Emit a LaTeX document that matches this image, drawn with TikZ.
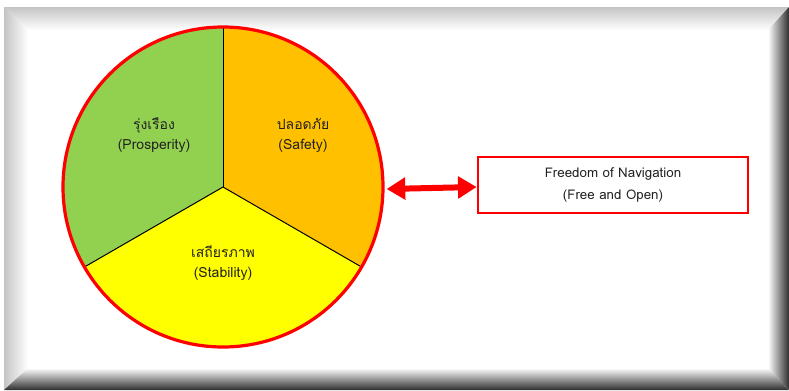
\documentclass[tikz,border=0pt]{standalone}
\usepackage{fontspec}
\newfontfamily\thaifont[Script=Thai]{Loma}
\setmainfont{Loma}
\usetikzlibrary{arrows.meta}
\definecolor{pgreen}{HTML}{92D050}
\definecolor{porange}{HTML}{FFC000}
\definecolor{pyellow}{HTML}{FFFF00}
\definecolor{pred}{HTML}{FF0000}
\definecolor{bevlight}{HTML}{C4C4C4}
\definecolor{bevdark}{HTML}{2E2E2E}
\definecolor{txt}{HTML}{222222}
\tikzset{
  lbl/.style={align=center, font=\thaifont\fontsize{10.5}{15}\selectfont, text=txt},
  divider/.style={black, line width=0.75pt},
  fonbox/.style={draw=pred, line width=2pt, fill=white, minimum width=202.5pt, minimum height=42pt, align=center, font=\fontsize{10}{17}\selectfont, text=txt},
  dblarrow/.style={pred, line width=4.5pt, {Triangle[width=16pt,length=14pt]}-{Triangle[width=16pt,length=14pt]}}
}
\begin{document}
\begin{tikzpicture}[x=0.75pt,y=-0.75pt]
\useasboundingbox (0,0) rectangle (789,390);
% frame bevels
\fill[white] (0,0) rectangle (789,390);
\shade[top color=bevlight, bottom color=white] (4,7) -- (789,7) -- (768,30) -- (28,30) -- cycle;
\shade[left color=bevlight, right color=white] (4,7) -- (28,30) -- (28,368) -- (4,390) -- cycle;
\shade[top color=white, bottom color=bevdark] (4,390) -- (28,368) -- (768,368) -- (789,390) -- cycle;
\shade[left color=white, right color=bevdark] (789,7) -- (789,390) -- (768,368) -- (768,30) -- cycle;
% pie (y axis points down, so angles run clockwise)
\coordinate (c) at (223,187);
\fill[porange] (c) -- ++(-90:160) arc[start angle=-90, end angle=30, radius=160] -- cycle;
\fill[pyellow] (c) -- ++(30:160) arc[start angle=30, end angle=150, radius=160] -- cycle;
\fill[pgreen] (c) -- ++(150:160) arc[start angle=150, end angle=270, radius=160] -- cycle;
\draw[divider] (c) -- ++(-90:160);
\draw[divider] (c) -- ++(30:160);
\draw[divider] (c) -- ++(150:160);
\node[circle, draw=pred, line width=2.4pt, minimum size=240pt, inner sep=0pt] (pie) at (c) {};
% labels
\node[lbl] (prosp) at (154,135) {รุ่งเรือง\\(Prosperity)};
\node[lbl] (safe) at (303,135) {ปลอดภัย\\(Safety)};
\node[lbl] (stab) at (223,263) {เสถียรภาพ\\(Stability)};
% box
\node[fonbox] (fon) at (613,185) {Freedom of Navigation\\(Free and Open)};
\draw[dblarrow] ([xshift=1.5pt,yshift=-1.5pt]pie.east) -- ([yshift=-1.5pt]fon.west);
\end{tikzpicture}
\end{document}
